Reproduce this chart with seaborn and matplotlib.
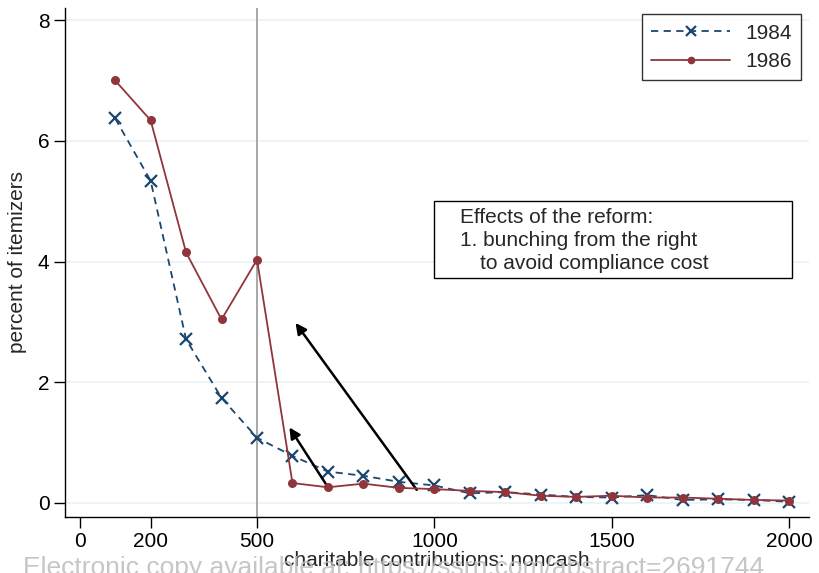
import numpy as np
import pandas as pd
import matplotlib
matplotlib.use("Agg")
import matplotlib.pyplot as plt
from matplotlib.patches import Rectangle
import seaborn as sns

x_vals = [100, 200, 300, 400, 500, 600, 700, 800, 900, 1000,
          1100, 1200, 1300, 1400, 1500, 1600, 1700, 1800, 1900, 2000]
y_1984 = [6.37, 5.34, 2.71, 1.74, 1.08, 0.78, 0.52, 0.45, 0.35, 0.29,
          0.16, 0.18, 0.14, 0.10, 0.09, 0.13, 0.05, 0.06, 0.05, 0.02]
y_1986 = [7.00, 6.34, 4.15, 3.04, 4.03, 0.33, 0.26, 0.32, 0.25, 0.23,
          0.20, 0.18, 0.12, 0.10, 0.12, 0.09, 0.09, 0.07, 0.05, 0.04]
x_ticks = [0, 200, 500, 1000, 1500, 2000]
y_ticks = [0, 2, 4, 6, 8]
note_lines = ["Effects of the reform:", "1. bunching from the right",
              "to avoid compliance cost"]

df = pd.DataFrame({
    "x": x_vals * 2,
    "y": y_1984 + y_1986,
    "year": ["1984"] * len(x_vals) + ["1986"] * len(x_vals),
})

sns.set_theme(style="white")
plt.rcParams['font.family'] = ['Liberation Sans', 'DejaVu Sans']

navy = "#1a476f"
maroon = "#90353b"

fig = plt.figure(figsize=(8.2, 5.73), dpi=100)
ax = fig.add_axes([0.079, 0.098, 0.907, 0.888])

for yt in y_ticks:
    ax.axhline(yt, color="#eaf2f3", lw=1.2, zorder=0)
ax.axvline(500, color="#a0a0a0", lw=1.3, zorder=1)

sns.lineplot(data=df[df.year == "1984"], x="x", y="y", ax=ax, color=navy,
             linestyle=(0, (4, 3)), marker="x", markersize=8,
             markeredgewidth=1.6, markeredgecolor=navy,
             lw=1.3, label="1984", zorder=3)
sns.lineplot(data=df[df.year == "1986"], x="x", y="y", ax=ax, color=maroon,
             marker="o", markersize=6.5, markeredgewidth=0, lw=1.3,
             label="1986", zorder=4)

# arrows
ax.annotate("", xy=(604, 3.02), xytext=(955, 0.18),
            arrowprops=dict(arrowstyle="-|>", color="black", lw=1.8,
                            mutation_scale=16))
ax.annotate("", xy=(587, 1.29), xytext=(699, 0.27),
            arrowprops=dict(arrowstyle="-|>", color="black", lw=1.8,
                            mutation_scale=16))

# annotation box
ax.add_patch(Rectangle((1000, 3.73), 1008, 1.27, fc="white", ec="black",
                       lw=1, zorder=5))
ax.text(1073, 4.73, note_lines[0], fontsize=15, va="center", ha="left", zorder=6)
ax.text(1071, 4.35, note_lines[1], fontsize=15, va="center", ha="left", zorder=6)
ax.text(1130, 3.97, note_lines[2], fontsize=15, va="center", ha="left", zorder=6)

ax.set_xlim(-42, 2055)
ax.set_ylim(-0.23, 8.2)
ax.set_xticks(x_ticks)
ax.set_yticks(y_ticks)
ax.tick_params(axis="both", labelsize=15, length=8, width=1, direction="out",
               colors="black", bottom=True, left=True, pad=3)
ax.set_xlabel("charitable contributions: noncash", fontsize=15, labelpad=0)
ax.set_ylabel("percent of itemizers", fontsize=15, labelpad=8)

for s in ["top", "right"]:
    ax.spines[s].set_visible(False)
for s in ["left", "bottom"]:
    ax.spines[s].set_color("black")
    ax.spines[s].set_linewidth(1)

leg = ax.legend(loc="upper right", bbox_to_anchor=(0.99, 0.988), fontsize=15,
                frameon=True, fancybox=False, edgecolor="black",
                handlelength=3.8, borderpad=0.45, labelspacing=0.45,
                handletextpad=0.72, borderaxespad=0.0, markerscale=0.85)
leg.get_frame().set_linewidth(1)

fig.text(0.48, -0.012, "Electronic copy available at: https://ssrn.com/abstract=2691744",
         fontsize=19, color="#bcbcbc", ha="center", va="bottom", alpha=0.85, zorder=10)

fig.savefig("out.png", dpi=100)
